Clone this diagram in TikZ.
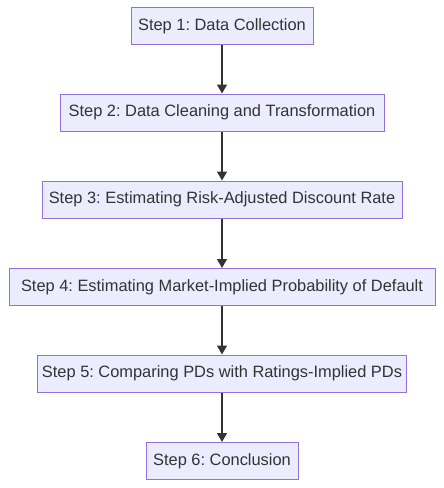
\documentclass[tikz,border=0pt]{standalone}
\usepackage{fontspec}
\setmainfont{Liberation Sans}
\usetikzlibrary{arrows.meta}
\definecolor{boxfill}{HTML}{ECECFF}
\definecolor{boxline}{HTML}{9370DB}
\definecolor{ink}{HTML}{333333}
\frenchspacing
\begin{document}
\begin{tikzpicture}[x=1pt,y=-1pt,
  stepbox/.style={draw=boxline,fill=boxfill,line width=1pt,minimum height=37pt,inner sep=0pt,text=ink,font=\fontsize{16.4}{19}\selectfont},
  conn/.style={draw=ink,line width=1.6pt,-{Triangle[length=9pt,width=10pt]}}]
\useasboundingbox (0,0) rectangle (444,488);
\node[stepbox,minimum width=182pt] (s1) at (222,26) {Step 1: Data Collection};
\node[stepbox,minimum width=324pt] (s2) at (222,112.5) {Step 2: Data Cleaning and Transformation};
\node[stepbox,minimum width=360pt] (s3) at (222,199.5) {Step 3: Estimating Risk-Adjusted Discount Rate};
\node[stepbox,minimum width=426pt] (s4) at (222,287) {Step 4: Estimating Market-Implied Probability of Default};
\node[stepbox,minimum width=369pt] (s5) at (222,373.5) {Step 5: Comparing PDs with Ratings-Implied PDs};
\node[stepbox,minimum width=152pt] (s6) at (222,461) {Step 6: Conclusion};
\draw[conn] (s1) -- (s2);
\draw[conn] (s2) -- (s3);
\draw[conn] (s3) -- (s4);
\draw[conn] (s4) -- (s5);
\draw[conn] (s5) -- (s6);
\end{tikzpicture}
\end{document}
